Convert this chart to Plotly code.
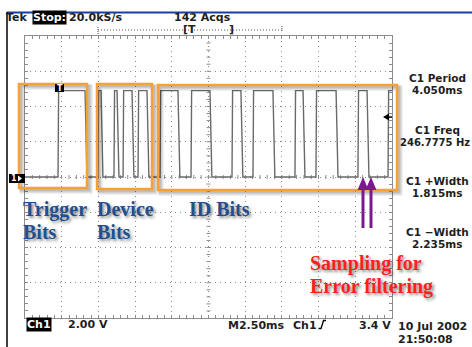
import plotly.graph_objects as go

W, H = 472, 347

# ---------------- data ----------------
time_per_div_ms = 2.5
volts_per_div = 2.0
n_xdiv, n_ydiv = 10, 8

# pulse edges of channel 1 (ms from left edge of screen)
pulse_rise_ms = [2.25, 4.97, 6.06, 6.68, 7.70, 9.20, 11.31, 14.10, 15.53, 18.39, 19.82, 22.68, 24.73]
pulse_fall_ms = [4.09, 5.18, 6.27, 7.29, 8.31, 10.42, 12.60, 14.71, 16.89, 18.94, 21.19, 23.30, None]
level_low_v = 0.0
level_high_v = 4.9
trigger_level_v = 3.4

header_labels = ["Tek", "Stop:", "20.0kS/s", "142 Acqs"]
meas_names = ["C1 Period", "C1 Freq", "C1 +Width", "C1 \u2212Width"]
meas_values = ["4.050ms", "246.7775 Hz", "1.815ms", "2.235ms"]
footer_labels = ["Ch1", "2.00 V", "M2.50ms", "Ch1", "3.4 V", "10 Jul 2002", "21:50:08"]
group_labels = [("Trigger", "Bits"), ("Device", "Bits"), ("ID Bits", "")]
note_lines = ["Sampling for", "Error filtering"]

# ---------------- build figure ----------------
x_max = time_per_div_ms * n_xdiv
y_half = volts_per_div * n_ydiv / 2

GL, GR, GT, GB = 25, 392, 36, 318
def px(x): return x / W
def py(y): return 1 - y / H

rise_dt = 0.04
fall_dt = 0.13
tx, ty = [0.0], [level_low_v]
for r, f in zip(pulse_rise_ms, pulse_fall_ms):
    tx += [r, r + rise_dt]
    ty += [level_low_v, level_high_v]
    if f is None:
        tx.append(x_max); ty.append(level_high_v)
    else:
        tx += [f, f + fall_dt]
        ty += [level_high_v, level_low_v]
if tx[-1] < x_max:
    tx.append(x_max); ty.append(ty[-1])

fig = go.Figure()
GRID = "#8c8c8c"

# center-line cross ticks
cx, cy = [], []
mx = time_per_div_ms / 5
my = volts_per_div / 5
dy_px = volts_per_div / ((GB - GT) / n_ydiv) * 2
dx_px = time_per_div_ms / ((GR - GL) / n_xdiv) * 2
k = 1
while k * mx < x_max - 1e-9:
    cx += [k * mx, k * mx, None]; cy += [-dy_px, dy_px, None]; k += 1
k = 1
while -y_half + k * my < y_half - 1e-9:
    yv = -y_half + k * my
    cx += [x_max / 2 - dx_px, x_max / 2 + dx_px, None]; cy += [yv, yv, None]; k += 1
fig.add_trace(go.Scatter(x=cx, y=cy, mode="lines", line=dict(color=GRID, width=1),
                         hoverinfo="skip", showlegend=False))

fig.add_trace(go.Scatter(x=tx, y=ty, mode="lines", line=dict(color="#6a6a6a", width=1.4),
                         hoverinfo="skip", showlegend=False))

fig.update_layout(
    width=W, height=H, margin=dict(l=0, r=0, t=0, b=0),
    paper_bgcolor="white", plot_bgcolor="white", showlegend=False,
    xaxis=dict(domain=[px(GL), px(GR)], range=[0, x_max], showticklabels=False,
               showline=True, linecolor=GRID, linewidth=1, mirror="allticks",
               ticks="inside", ticklen=3, tickcolor=GRID, tick0=0, dtick=time_per_div_ms,
               showgrid=True, gridcolor=GRID, gridwidth=1, griddash="1px,4px",
               zeroline=False, fixedrange=True,
               minor=dict(dtick=time_per_div_ms / 5, ticks="inside", ticklen=3, tickcolor=GRID, showgrid=False)),
    yaxis=dict(domain=[py(GB), py(GT)], range=[-y_half, y_half], showticklabels=False,
               showline=True, linecolor=GRID, linewidth=1, mirror="allticks",
               ticks="inside", ticklen=3, tickcolor=GRID, tick0=0, dtick=volts_per_div,
               showgrid=True, gridcolor=GRID, gridwidth=1, griddash="1px,4px",
               zeroline=False, fixedrange=True,
               minor=dict(dtick=volts_per_div / 5, ticks="inside", ticklen=3, tickcolor=GRID, showgrid=False)),
)

shapes = []
def pline(x0, y0, x1, y1, color, width, dash=None, opacity=1):
    d = dict(type="line", xref="paper", yref="paper", x0=px(x0), y0=py(y0), x1=px(x1), y1=py(y1),
             line=dict(color=color, width=width), opacity=opacity, layer="above")
    if dash: d["line"]["dash"] = dash
    shapes.append(d)
def prect(x0, y0, x1, y1, line=None, fill=None, width=1, opacity=1):
    shapes.append(dict(type="rect", xref="paper", yref="paper", x0=px(x0), y0=py(y0), x1=px(x1), y1=py(y1),
                       line=dict(color=line or "rgba(0,0,0,0)", width=width if line else 0),
                       fillcolor=fill or "rgba(0,0,0,0)", opacity=opacity, layer="above"))
def ppath(pts, fill=None, line=None, width=1, close=True):
    s = "M " + " L ".join(f"{px(a)},{py(b)}" for a, b in pts) + (" Z" if close else "")
    shapes.append(dict(type="path", xref="paper", yref="paper", path=s,
                       fillcolor=fill or "rgba(0,0,0,0)",
                       line=dict(color=line or "rgba(0,0,0,0)", width=width if line else 0), layer="above"))

# frame lines
pline(7, 12.5, W, 12.5, "#1d3d9e", 2)
pline(7, 12, 7, H, "black", 1.5)

# record bracket
pline(98, 30, 282, 30, "#555555", 1, dash="1px,2px")
pline(98, 27, 98, 35, "#555555", 1, dash="1px,1px")
pline(282, 26, 282, 31, "#555555", 1, dash="1px,1px")

# orange group boxes with soft shadows
ORANGE = "#f6a037"
boxes = [(19, 84, 87, 188), (97, 84, 152, 189), (158, 85, 397, 190)]
for (x0, y0, x1, y1) in boxes:
    prect(x0 + 3, y0 + 3, x1 + 3, y1 + 3, line="rgba(0,0,0,0.12)", width=5)
    prect(x0 + 2, y0 + 2, x1 + 2, y1 + 2, line="rgba(0,0,0,0.15)", width=3)
for (x0, y0, x1, y1) in boxes:
    prect(x0, y0, x1, y1, line=ORANGE, width=2.5)

# trigger position marker on trace
prect(55, 84, 64, 92, fill="black")
# ground marker
prect(9, 174, 25, 183, fill="black")
ppath([(18, 175.5), (22, 178.5), (18, 181.5)], fill="white")
# trigger level marker (right edge)
ylpx = GT + (y_half - trigger_level_v) / (2 * y_half) * (GB - GT)
ppath([(383, ylpx), (389, ylpx - 3.5), (389, ylpx + 3.5)], fill="black")
pline(388, ylpx, 392, ylpx, "black", 1.5)

# purple arrows
PURPLE = "#7b1a8e"
for xa in (363, 371):
    pline(xa, 188, xa, 228, PURPLE, 3)
    ppath([(xa, 177), (xa - 5.5, 190), (xa + 5.5, 190)], fill=PURPLE)

# trigger slope icon in footer
ppath([(318.5, 328.5), (321, 328.5), (323.5, 320.5), (326, 320.5)], line="black", width=1.3, close=False)

fig.update_layout(shapes=shapes)

ann = []
def text(x, y, s, size=11, color="#1e1e1e", xanchor="left", bg=None, family="DejaVu Sans",
         weight="bold", shadow=None):
    f = dict(family=family, size=size, color=color, weight=weight)
    if shadow: f["shadow"] = shadow
    a = dict(xref="paper", yref="paper", x=px(x), y=py(y), text=s, showarrow=False,
             xanchor=xanchor, yanchor="middle", font=f, borderpad=0)
    if bg:
        a["bgcolor"] = bg
    ann.append(a)

# header
text(5, 17.5, header_labels[0])
text(32, 17.5, header_labels[1], color="white", bg="black")
text(68, 17.5, header_labels[2])
text(173, 17.5, header_labels[3])
text(182, 30, "[T", size=11, color="#222")
text(228, 30, "]", size=11, color="#222")
text(59.5, 88.5, "T", size=8, color="white", xanchor="center")
text(13.5, 178.5, "1", size=8, color="white", xanchor="center")

# measurements
meas_y = [(78, 90), (130, 142), (181, 193), (232, 244)]
for (n, v), (y1, y2) in zip(zip(meas_names, meas_values), meas_y):
    text(437, y1, n, size=10.5, xanchor="center")
    if len(v) > 9:
        text(434.5, y2, v, size=10, xanchor="center")
    else:
        text(437, y2, v, size=10.5, xanchor="center")

# footer
text(26, 324, footer_labels[0], color="white", bg="black")
text(67, 324, footer_labels[1])
text(227, 325, footer_labels[2])
text(292, 325, footer_labels[3])
text(358, 325, footer_labels[4])
text(397, 326, footer_labels[5])
text(397, 339, footer_labels[6])

# group labels
SH = "2px 2px 3px rgba(0,0,0,0.45)"
gx = [22, 96, 188]
for (l1, l2), x in zip(group_labels, gx):
    text(x, 209, l1, size=20, color="#1f4f8f", family="Liberation Serif", shadow=SH)
    if l2:
        text(x, 232, l2, size=20, color="#1f4f8f", family="Liberation Serif", shadow=SH)

text(309, 263, note_lines[0], size=20, color="#ff1f1f", family="Liberation Serif", shadow=SH)
text(309, 286, note_lines[1], size=20, color="#ff1f1f", family="Liberation Serif", shadow=SH)

fig.update_layout(annotations=ann)

fig.write_html("out.html", config={"displayModeBar": False, "staticPlot": True},
               post_script="document.body.style.margin='0';document.body.style.padding='0';")
